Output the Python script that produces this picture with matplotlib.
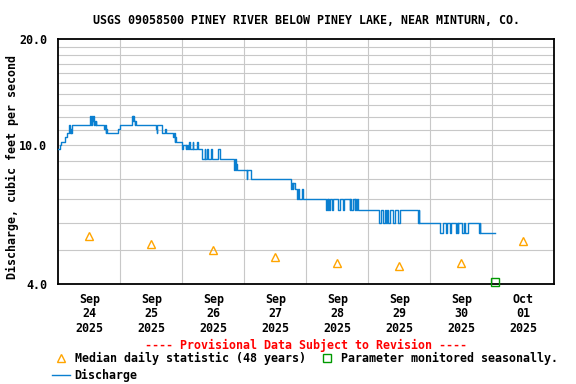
import matplotlib
matplotlib.use("Agg")
import matplotlib.pyplot as plt
from matplotlib.ticker import FixedLocator, NullFormatter
from matplotlib.lines import Line2D

# discharge, step changes (hours after Sep 24 00:00, cfs)
flow_hours = [0.0, 0.7, 1.2, 2.5, 3.2, 4.0, 4.25, 4.5, 4.75, 5.0, 5.3,
              12.4, 12.65, 12.9, 13.15, 13.4, 13.65, 13.9, 14.15, 14.4, 14.65,
              17.8, 18.05, 18.3, 18.55, 18.8, 23.3, 23.9,
              28.5, 28.75, 29.0, 29.25, 29.5, 29.75, 30.0,
              37.8, 38.05, 38.3, 40.1, 41.4, 41.65, 44.5, 44.75, 45.0, 45.25, 45.5,
              48.0, 48.3, 49.3, 49.55, 49.8, 50.05, 50.4, 50.6, 50.85, 52.0, 52.25,
              53.8, 54.05, 55.5, 56.7, 56.95, 57.6, 57.85, 59.3, 59.55, 61.9, 62.4,
              68.1, 68.35, 68.6, 68.85, 69.1, 72.9, 73.15, 74.4,
              90.2, 90.45, 90.7, 91.0, 91.5, 92.5, 92.75, 93.0, 94.5, 94.75,
              103.8, 104.05, 104.3, 104.55, 104.8, 105.1, 106.0, 106.25,
              108.3, 108.9, 110.2, 110.45, 112.8, 113.05, 113.3, 114.1,
              114.7, 115.0, 115.3, 115.6, 116.0,
              124.1, 125.0, 125.7, 126.3, 127.0, 127.3, 127.6, 128.3,
              129.5, 130.2, 131.5, 132.1, 139.2, 139.45, 139.7,
              147.9, 148.9, 149.9, 150.4, 151.5, 152.1, 154.0, 154.4, 154.6, 154.8,
              156.3, 156.9, 157.6, 158.5, 162.8, 163.05, 163.3, 169.2]
flow_cfs = [9.7, 10.0, 10.2, 10.5, 10.8, 11.1, 11.4, 10.8, 11.1, 10.8, 11.4,
            12.1, 11.4, 12.1, 11.7, 12.1, 11.4, 11.7, 11.4, 11.7, 11.4,
            11.1, 11.4, 10.8, 11.1, 10.8, 11.1, 11.4,
            12.1, 11.7, 12.1, 11.7, 11.4, 11.7, 11.4,
            11.1, 10.8, 11.4, 10.8, 11.1, 10.8, 10.5, 10.8, 10.2, 10.5, 10.2,
            9.7, 10.0, 9.7, 10.0, 9.7, 10.0, 9.7, 10.2, 9.7, 10.2, 9.7,
            10.2, 9.7, 9.1, 9.7, 9.1, 9.7, 9.1, 9.7, 9.1, 9.7, 9.1,
            8.5, 9.1, 8.5, 8.8, 8.5, 8.0, 8.5, 8.0,
            7.5, 7.8, 7.5, 7.8, 7.5, 7.0, 7.5, 7.0, 7.5, 7.0,
            6.5, 7.0, 6.5, 7.0, 6.5, 7.0, 6.5, 7.0,
            6.5, 7.0, 6.5, 7.0, 6.5, 7.0, 6.5, 7.0,
            6.5, 7.0, 6.5, 7.0, 6.5,
            6.0, 6.5, 6.0, 6.5, 6.0, 6.5, 6.0, 6.5,
            6.0, 6.5, 6.0, 6.5, 6.0, 6.5, 6.0,
            5.6, 6.0, 5.6, 6.0, 5.6, 6.0, 5.6, 6.0, 5.6, 6.0,
            5.6, 6.0, 5.6, 6.0, 5.6, 6.0, 5.6, 5.6]

# median daily statistic, at noon each day
median_hours = [12, 36, 60, 84, 108, 132, 156, 180]
median_cfs = [5.5, 5.2, 5.0, 4.8, 4.6, 4.5, 4.6, 5.3]

# parameter monitored seasonally marker
seasonal_hours = [169.0]
seasonal_cfs = [4.05]

day_labels = ["Sep\n24\n2025", "Sep\n25\n2025", "Sep\n26\n2025", "Sep\n27\n2025",
              "Sep\n28\n2025", "Sep\n29\n2025", "Sep\n30\n2025", "Oct\n01\n2025"]
y_labels = ["4.0", "10.0", "20.0"]
y_major = [4, 10, 20]
y_grid = list(range(5, 20))

FONT = dict(family="DejaVu Sans Mono", weight="bold", size=8.4)
BLUE = "#0a7fd0"
ORANGE = "#ffa500"
GREEN = "#009900"

fig = plt.figure(figsize=(5.76, 3.84), dpi=100)
ax = fig.add_axes([58.3 / 576, 1 - 284.3 / 384, 496 / 576, 245 / 384])

ax.plot(flow_hours, flow_cfs, drawstyle="steps-post", color=BLUE, lw=1.0, zorder=3)
ax.plot(median_hours, median_cfs, linestyle="none", marker="^", ms=5.5,
        mfc="none", mec=ORANGE, mew=1.0, zorder=4)
ax.plot(seasonal_hours, seasonal_cfs, linestyle="none", marker="s", ms=6,
        mfc="none", mec=GREEN, mew=1.0, clip_on=False, zorder=5)

ax.set_yscale("log")
ax.set_ylim(4, 20)
ax.set_xlim(0, 192)

ax.yaxis.set_major_locator(FixedLocator(y_major))
ax.set_yticklabels(y_labels, **FONT)
ax.yaxis.set_minor_locator(FixedLocator(y_grid))
ax.yaxis.set_minor_formatter(NullFormatter())
ax.yaxis.remove_overlapping_locs = False

ax.xaxis.set_major_locator(FixedLocator(median_hours))
ax.set_xticklabels(day_labels, linespacing=1.15, **FONT)
ax.xaxis.set_minor_locator(FixedLocator([24 * k for k in range(1, 8)]))

ax.tick_params(which="both", length=0)
ax.tick_params(axis="x", pad=6)
ax.tick_params(axis="y", pad=8)
ax.grid(True, which="minor", color="#c8c8c8", lw=0.8, zorder=0)
ax.set_axisbelow(True)
for s in ax.spines.values():
    s.set_linewidth(1.3)

ax.set_ylabel("Discharge, cubic feet per second", va="center", **FONT)
ax.yaxis.set_label_coords((12 - 58.3) / 496, 0.48)

cx = (58.3 + 554.3) / 2 / 576
fig.text(cx, 1 - 20 / 384, "USGS 09058500 PINEY RIVER BELOW PINEY LAKE, NEAR MINTURN, CO.",
         ha="center", va="center", **FONT)
fig.text(cx, 1 - 345 / 384, "---- Provisional Data Subject to Revision ----",
         ha="center", va="center", color="red", **FONT)

# legend, drawn by hand in pixel coordinates
lg = fig.add_axes([0, 0, 1, 1], facecolor="none")
lg.set_xlim(0, 576)
lg.set_ylim(384, 0)
lg.axis("off")
lg.plot([60.8], [358], marker="^", ms=5.5, mfc="none", mec=ORANGE, mew=1.0)
lg.text(74.7, 358, "Median daily statistic (48 years)", va="center", **FONT)
lg.plot([326.5], [358], marker="s", ms=6, mfc="none", mec=GREEN, mew=1.0)
lg.text(341.4, 358, "Parameter monitored seasonally.", va="center", **FONT)
lg.add_line(Line2D([51.5, 69.5], [375, 375], color=BLUE, lw=1.0))
lg.text(74.7, 375, "Discharge", va="center", **FONT)

fig.savefig("out.png", dpi=100)
